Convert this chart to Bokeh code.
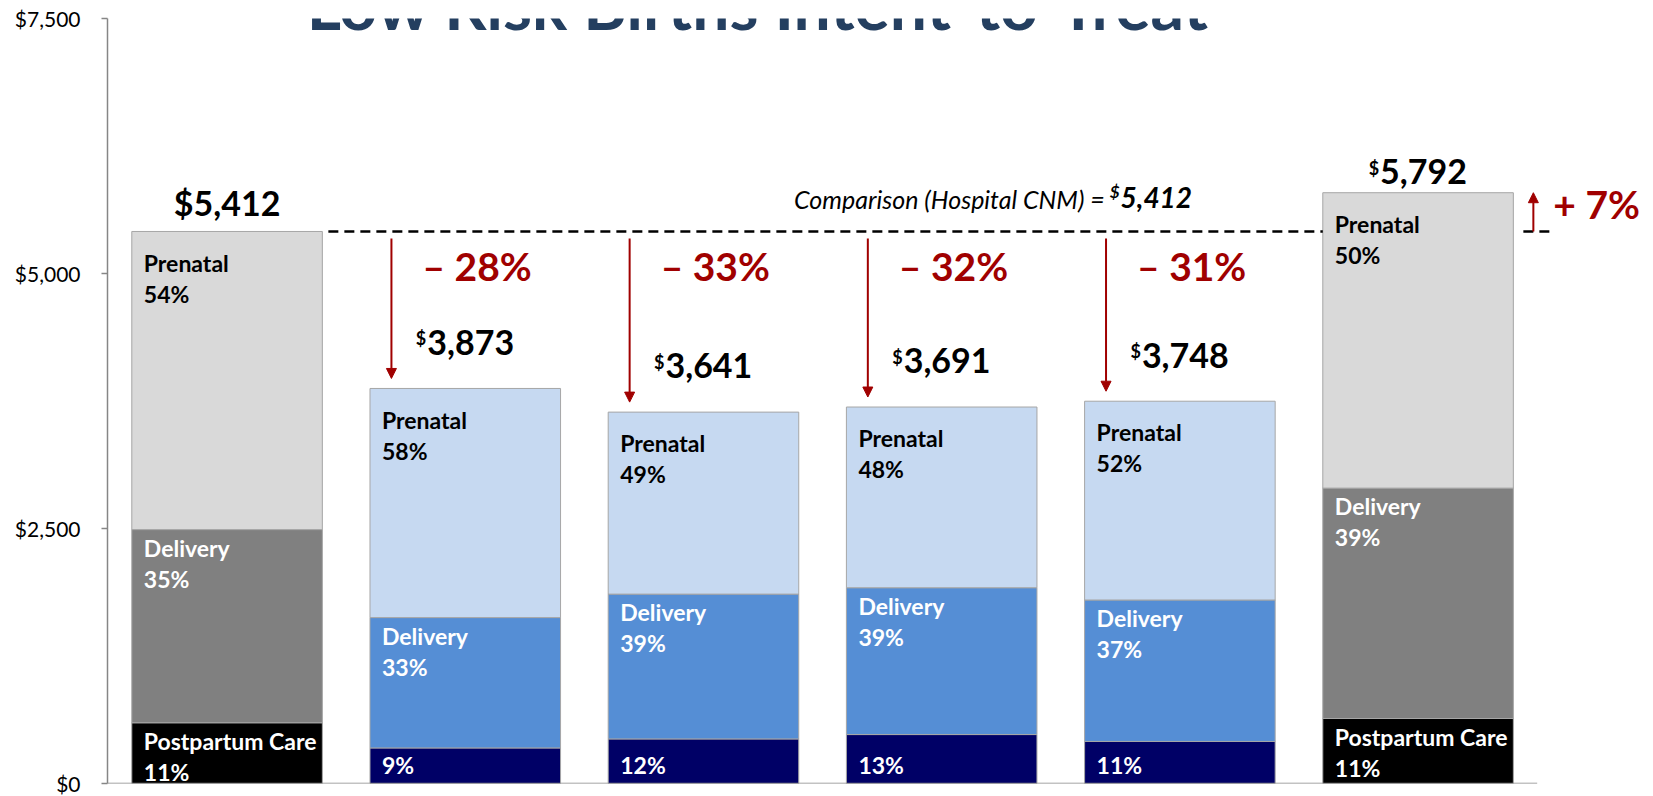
from bokeh.plotting import figure
from bokeh.models import Range1d, FixedTicker, NumeralTickFormatter, Arrow, NormalHead, ColumnDataSource, Label
from bokeh.core.properties import value
from bokeh.embed import file_html
from bokeh.resources import INLINE

# ---------------- data ----------------
title_text = "Low Risk Births Intent-to-Treat"
comparison_text = "Comparison (Hospital CNM) = "
comparison_total = 5412
totals = [5412, 3873, 3641, 3691, 3748, 5792]
prenatal_pct = [54, 58, 49, 48, 52, 50]
delivery_pct = [35, 33, 39, 39, 37, 39]
postpartum_pct = [11, 9, 12, 13, 11, 11]
segment_names = ["Postpartum Care", "Delivery", "Prenatal"]
y_ticks = [0, 2500, 5000, 7500]

# ---------------- layout / style ----------------
W, H = 1653, 796
LEFT, RIGHT, TOP, BOTTOM = 107, 0, 18, 13
YMAX = 7500
FRAME_H = H - TOP - BOTTOM
DPX = YMAX / FRAME_H            # dollars per pixel
UNIT_PX = 238.2                  # pixels per bar slot
X0 = -0.502
X1 = X0 + (W - LEFT - RIGHT) / UNIT_PX
UPX = 1.0 / UNIT_PX              # x units per pixel
BAR_W = 0.8
RED = "#A00000"
FONT = value("Lato")
gray_cols = {"Prenatal": "#D9D9D9", "Delivery": "#808080", "Postpartum Care": "#000000"}
blue_cols = {"Prenatal": "#C6D9F1", "Delivery": "#558ED5", "Postpartum Care": "#000066"}
n = len(totals)
is_gray = [i == 0 or totals[i] > comparison_total for i in range(n)]


def bl(d, fs):
    """y_offset that puts the text baseline d px below the anchor."""
    return d - 0.387 * fs


p = figure(width=W, height=H, output_backend="svg", toolbar_location=None,
           x_range=Range1d(X0, X1), y_range=Range1d(0, YMAX),
           x_axis_location=None, title=None,
           min_border_left=LEFT, min_border_right=RIGHT,
           min_border_top=TOP, min_border_bottom=BOTTOM)
p.outline_line_color = None
p.grid.visible = False
p.background_fill_color = "white"

ax = p.yaxis[0]
ax.ticker = FixedTicker(ticks=y_ticks)
ax.formatter = NumeralTickFormatter(format="$0,0")
ax.axis_line_color = "#868686"
ax.axis_line_width = 1.5
ax.major_tick_line_color = "#868686"
ax.major_tick_line_width = 1.5
ax.major_tick_out = 6
ax.major_tick_in = 0
ax.minor_tick_line_color = None
ax.major_label_standoff = 21
ax.major_label_text_font = "Lato"
ax.major_label_text_font_size = "21px"
ax.major_label_text_color = "#000000"

# ---------------- stacked bars ----------------
xs, bots, tops, fills = [], [], [], []
seg_vals = []
for i in range(n):
    t = totals[i]
    vals = [t * postpartum_pct[i] / 100.0, t * delivery_pct[i] / 100.0, t * prenatal_pct[i] / 100.0]
    seg_vals.append(vals)
    b = 0.0
    cols = gray_cols if is_gray[i] else blue_cols
    for name, v in zip(segment_names, vals):
        xs.append(i); bots.append(b); tops.append(b + v); fills.append(cols[name])
        b += v
p.vbar(x="x", bottom="b", top="t", width=BAR_W, fill_color="c", line_color="#A6A6A6", line_width=1,
       source=ColumnDataSource(dict(x=xs, b=bots, t=tops, c=fills)))

# baseline (x axis line)
p.segment(x0=[X0], y0=[0], x1=[n - 1 + 0.5], y1=[0], line_color="#868686", line_width=1.5)

# ---------------- segment labels ----------------
SEG_FS = 23
lx, ly, lt, lc, lo = [], [], [], [], []
for i in range(n):
    vals = seg_vals[i]
    pcts = [postpartum_pct[i], delivery_pct[i], prenatal_pct[i]]
    b = 0.0
    for name, v, pc in zip(segment_names, vals, pcts):
        top = b + v
        col = "#000000" if name == "Prenatal" else "#FFFFFF"
        first = 40 if name == "Prenatal" else 27
        if name == "Postpartum Care" and not is_gray[i]:
            lx.append(i - BAR_W / 2); ly.append(0); lt.append(f"{pc}%"); lc.append(col); lo.append(bl(-10, SEG_FS))
        else:
            lx.append(i - BAR_W / 2); ly.append(top); lt.append(name); lc.append(col); lo.append(bl(first, SEG_FS))
            lx.append(i - BAR_W / 2); ly.append(top); lt.append(f"{pc}%"); lc.append(col); lo.append(bl(first + 31, SEG_FS))
        b = top
p.text(x="x", y="y", text="t", text_color="c", y_offset="o", x_offset=12,
       text_font=FONT, text_font_style="bold", text_font_size=f"{SEG_FS}px",
       text_align="left", text_baseline="alphabetic",
       source=ColumnDataSource(dict(x=lx, y=ly, t=lt, c=lc, o=lo)))

# ---------------- total labels ----------------
TOT_FS = 34
SUP_FS = 18
p.text(x=[0], y=[totals[0]], text=[f"${totals[0]:,}"], y_offset=bl(-16, TOT_FS),
       text_font=FONT, text_font_style="bold", text_font_size=f"{TOT_FS}px", text_color="#000000",
       text_align="center", text_baseline="alphabetic")
sx, sy, so, st, sd, sdo = [], [], [], [], [], []
for i in range(1, n):
    d = -8 if totals[i] > comparison_total else -33
    sx.append(i); sy.append(totals[i]); so.append(bl(d, TOT_FS)); st.append(f"{totals[i]:,}")
    sd.append("$"); sdo.append(bl(d - 10, SUP_FS))
p.text(x="x", y="y", text="t", y_offset="o", x_offset=-38,
       text_font=FONT, text_font_style="bold", text_font_size=f"{TOT_FS}px", text_color="#000000",
       text_align="left", text_baseline="alphabetic",
       source=ColumnDataSource(dict(x=sx, y=sy, o=so, t=st)))
p.text(x="x", y="y", text="d", y_offset="o", x_offset=-39,
       text_font=FONT, text_font_style="bold", text_font_size=f"{SUP_FS}px", text_color="#000000",
       text_align="right", text_baseline="alphabetic",
       source=ColumnDataSource(dict(x=sx, y=sy, d=sd, o=sdo)))

# ---------------- comparison line & text ----------------
p.segment(x0=[0 + BAR_W / 2 + 6 * UPX], y0=[comparison_total], x1=[n - 1 - BAR_W / 2], y1=[comparison_total],
          line_color="#000000", line_width=2.5, line_dash="10 6")
p.segment(x0=[n - 1 + BAR_W / 2 + 10 * UPX], y0=[comparison_total], x1=[n - 1 + BAR_W / 2 + 36 * UPX],
          y1=[comparison_total], line_color="#000000", line_width=2.5, line_dash="10 6")
CX = 3.751
CMP_FS, CMPN_FS, CMPS_FS = 25, 28, 17
p.text(x=[CX], y=[comparison_total], text=[f"{comparison_total:,}"], y_offset=bl(-23, CMPN_FS),
       text_font=FONT, text_font_style="bold italic", text_font_size=f"{CMPN_FS}px", text_color="#000000",
       text_align="left", text_baseline="alphabetic")
p.text(x=[CX], y=[comparison_total], text=["$"], y_offset=bl(-33, CMPS_FS), x_offset=-1,
       text_font=FONT, text_font_style="bold italic", text_font_size=f"{CMPS_FS}px", text_color="#000000",
       text_align="right", text_baseline="alphabetic")
p.text(x=[CX], y=[comparison_total], text=[comparison_text], y_offset=bl(-23, CMP_FS), x_offset=-10,
       text_font=FONT, text_font_style="italic", text_font_size=f"{CMP_FS}px", text_color="#000000",
       text_align="right", text_baseline="alphabetic")

# ---------------- change arrows & percentages ----------------
CHG_FS = 39
ax0, ay0, ax1, ay1 = [], [], [], []
cx_, cy_, ct_, co_, cxo = [], [], [], [], []
for i in range(1, n):
    chg = round((totals[i] / comparison_total - 1) * 100)
    if chg < 0:
        xa = i - 0.31
        ax0.append(xa); ay0.append(comparison_total - 7 * DPX); ax1.append(xa); ay1.append(totals[i] + 10 * DPX)
        cx_.append(xa); cy_.append(comparison_total); ct_.append(f"\u2013 {abs(chg)}%")
        co_.append(bl(50, CHG_FS)); cxo.append(31)
    else:
        xa = i + BAR_W / 2 + 20 * UPX
        ax0.append(xa); ay0.append(comparison_total); ax1.append(xa); ay1.append(totals[i])
        cx_.append(xa); cy_.append(comparison_total); ct_.append(f"+ {chg}%")
        co_.append(bl(-12, CHG_FS)); cxo.append(20)
p.add_layout(Arrow(end=NormalHead(size=10, fill_color=RED, line_color=RED, line_width=1),
                   x_start="x0", y_start="y0", x_end="x1", y_end="y1",
                   line_color=RED, line_width=2,
                   source=ColumnDataSource(dict(x0=ax0, y0=ay0, x1=ax1, y1=ay1))))
p.text(x="x", y="y", text="t", y_offset="o", x_offset="xo",
       text_font=FONT, text_font_style="bold", text_font_size=f"{CHG_FS}px", text_color=RED,
       text_align="left", text_baseline="alphabetic",
       source=ColumnDataSource(dict(x=cx_, y=cy_, t=ct_, o=co_, xo=cxo)))

# ---------------- title (cut at top like the original) ----------------
TITLE_FS = 66
TITLE_BASE = 30
p.add_layout(Label(x=2.229, y=YMAX + (TOP - TITLE_BASE + 0.387 * TITLE_FS) * DPX, text=title_text,
                   text_font="Lato", text_font_style="bold",
                   text_font_size=f"{TITLE_FS}px", text_color="#243F60", text_align="center",
                   text_baseline="alphabetic"))

open("out.html", "w").write(file_html(p, INLINE))
